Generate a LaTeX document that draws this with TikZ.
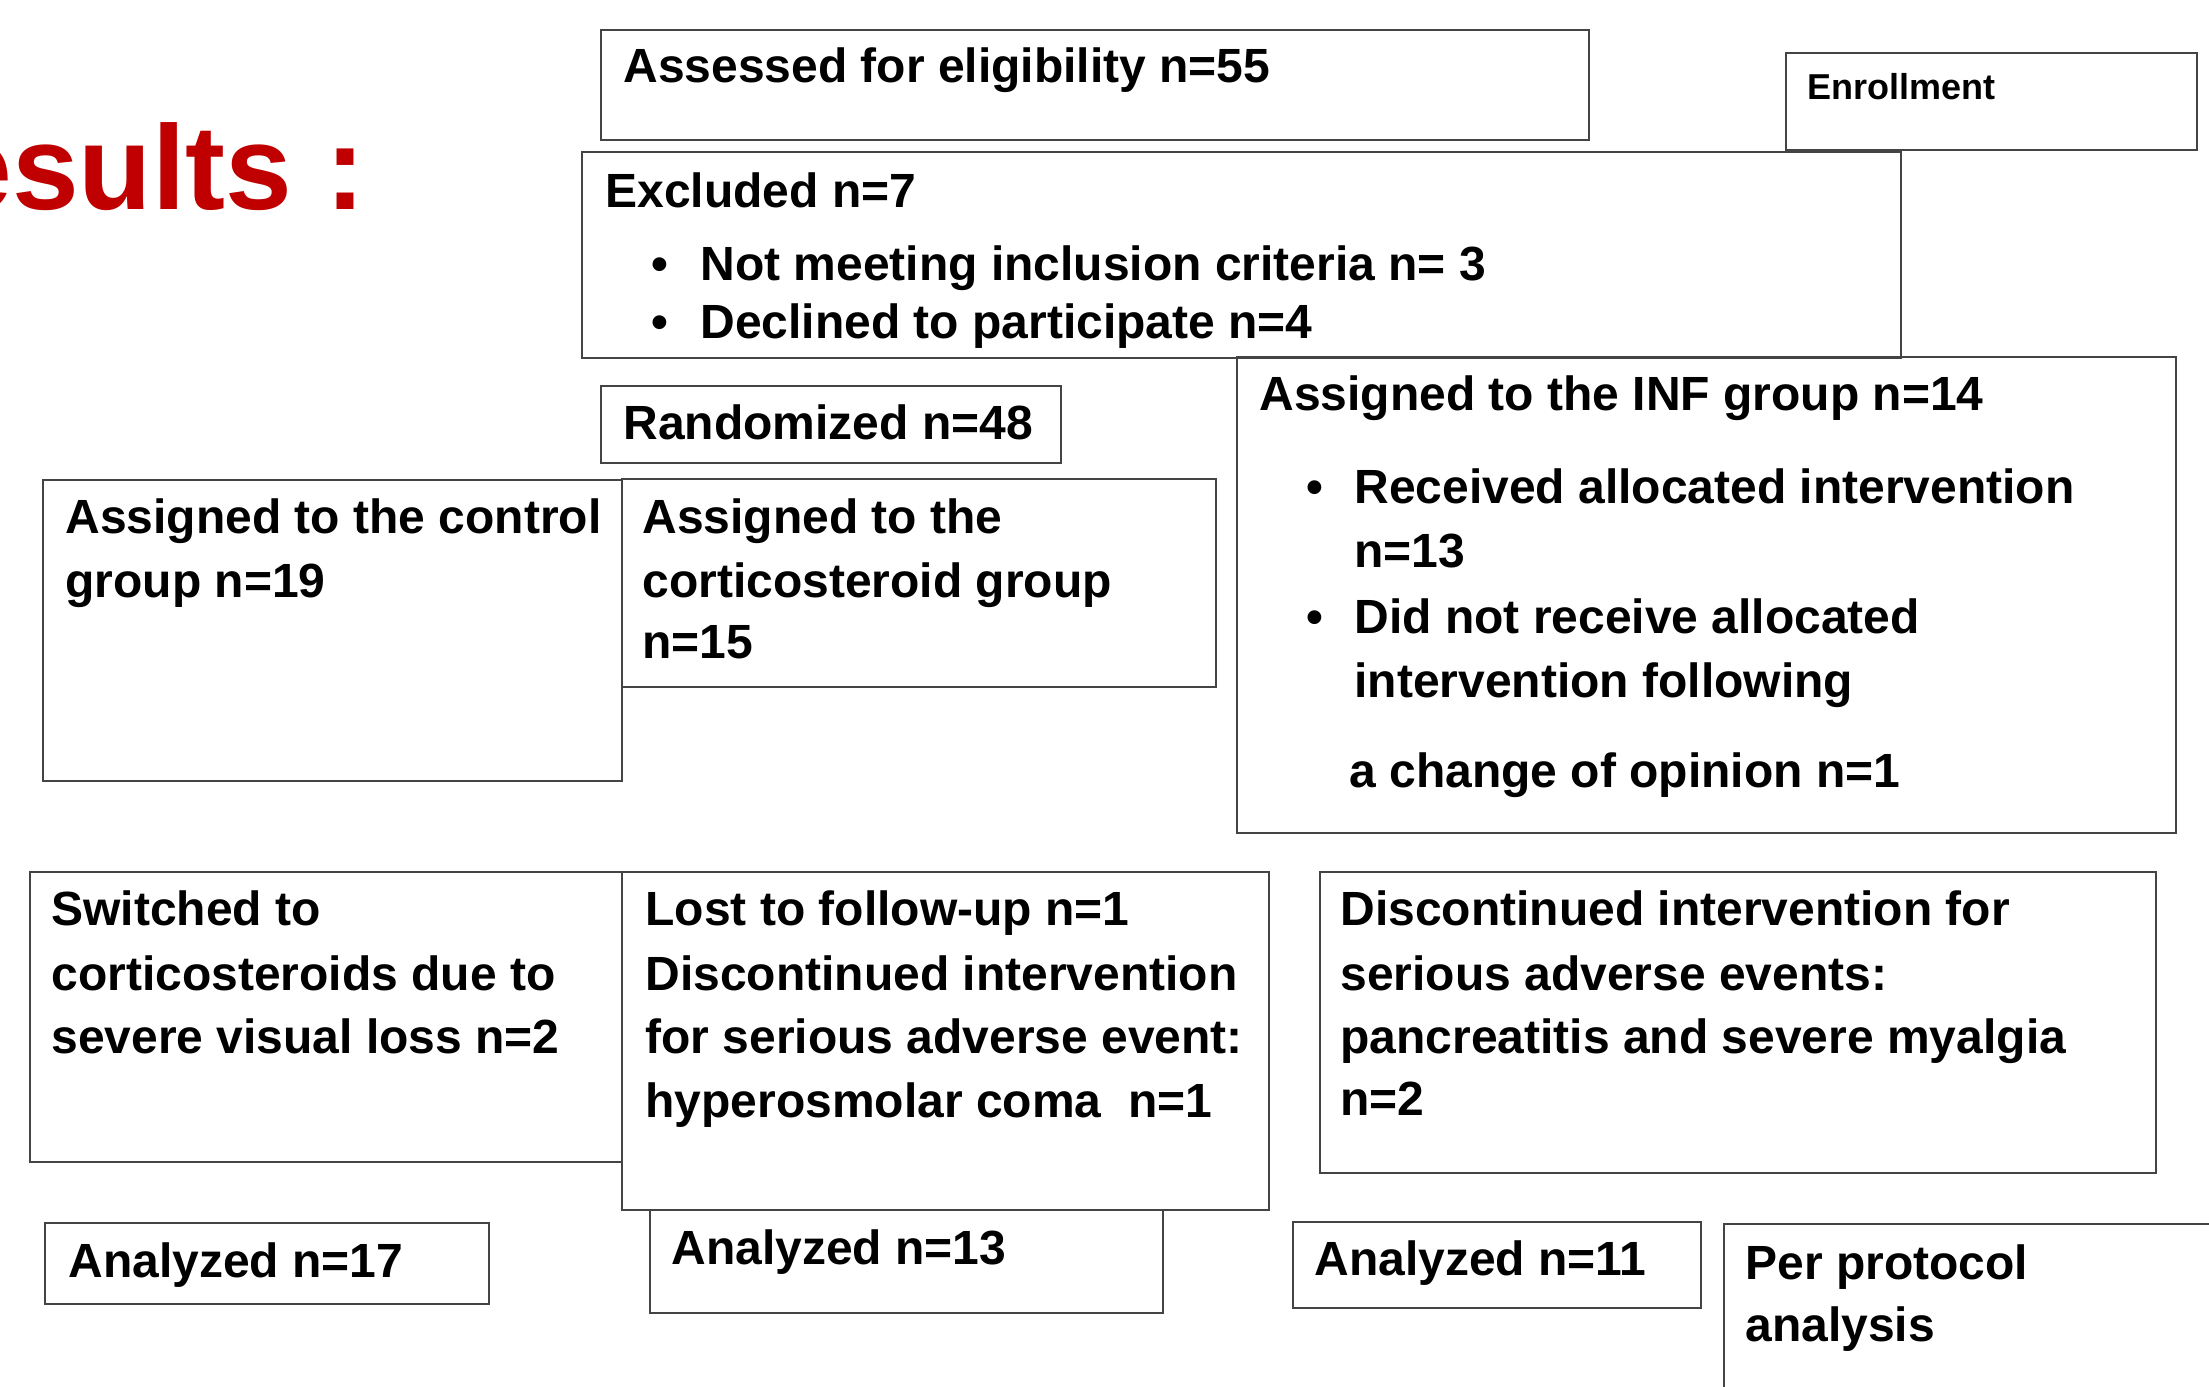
\documentclass[tikz,border=0pt]{standalone}
\usepackage{fontspec}
\setmainfont{Liberation Sans}
\usetikzlibrary{fit}
\definecolor{resred}{HTML}{C00000}
\definecolor{boxline}{HTML}{444444}
\tikzset{
  box/.style={draw=boxline, line width=0.8pt, inner sep=0pt, rectangle},
  txt/.style={anchor=base west, inner sep=0pt, font=\bfseries\fontsize{24}{28}\selectfont},
  smalltxt/.style={anchor=base west, inner sep=0pt, font=\bfseries\fontsize{18}{22}\selectfont},
  bul/.style={anchor=base, inner sep=0pt, font=\bfseries\fontsize{24}{28}\selectfont},
  bigtitle/.style={anchor=base west, inner sep=0pt, text=resred, font=\bfseries\fontsize{60}{70}\selectfont},
}
\begin{document}
\begin{tikzpicture}[x=0.5pt,y=-0.5pt]
\useasboundingbox (0,0) rectangle (2209,1386);
\clip (0,0) rectangle (2209,1386);
\fill[white] (0,0) rectangle (2209,1386);

% title
\node[bigtitle] (res) at (-55,209) {esults :};

% boxes
\node[box, fit={(601,30) (1589,140)}] (assess) {};
\node[box, fit={(1786,53) (2197,150)}] (enroll) {};
\node[box, fit={(582,152) (1901,358)}] (excl) {};
\node[box, fit={(601,386) (1061,463)}] (rand) {};
\node[box, fit={(43,480) (622,781)}] (ctrl) {};
\node[box, fit={(622,479) (1216,687)}] (cort) {};
\node[box, fit={(1237,357) (2176,833)}] (inf) {};
\node[box, fit={(30,872) (622,1162)}] (switch) {};
\node[box, fit={(622,872) (1269,1210)}] (lost) {};
\node[box, fit={(1320,872) (2156,1173)}] (disc) {};
\node[box, fit={(45,1223) (489,1304)}] (an17) {};
\node[box, fit={(650,1210) (1163,1313)}] (an13) {};
\node[box, fit={(1293,1222) (1701,1308)}] (an11) {};
\node[box, fit={(1724,1224) (2260,1440)}] (pp) {};

% texts
\node[txt] (tassess) at (623,83) {Assessed for eligibility n=55};
\node[smalltxt] (tenroll) at (1807,99) {Enrollment};
\node[txt] (texcl) at (605,207) {Excluded n=7};
\node[bul] (bx1) at (660,280) {•};
\node[txt] (texcl1) at (700,280) {Not meeting inclusion criteria n= 3};
\node[bul] (bx2) at (660,338) {•};
\node[txt] (texcl2) at (700,338) {Declined to participate n=4};
\node[txt] (trand) at (623,439) {Randomized n=48};

\node[txt] (tctrl1) at (65,533) {Assigned to the control};
\node[txt] (tctrl2) at (65,597) {group n=19};

\node[txt] (tcort1) at (642,533) {Assigned to the};
\node[txt] (tcort2) at (642,597) {corticosteroid group};
\node[txt] (tcort3) at (642,658) {n=15};

\node[txt] (tinf) at (1259,410) {Assigned to the INF group n=14};
\node[bul] (bi1) at (1315,503) {•};
\node[txt] (tinf1) at (1354,503) {Received allocated intervention};
\node[txt] (tinf2) at (1354,567) {n=13};
\node[bul] (bi2) at (1315,633) {•};
\node[txt] (tinf3) at (1354,633) {Did not receive allocated};
\node[txt] (tinf4) at (1354,697) {intervention following};
\node[txt] (tinf5) at (1349,787) {a change of opinion n=1};

\node[txt] (tsw1) at (51,925) {Switched to};
\node[txt] (tsw2) at (51,990) {corticosteroids due to};
\node[txt] (tsw3) at (51,1053) {severe visual loss n=2};

\node[txt] (tlost1) at (645,925) {Lost to follow-up n=1};
\node[txt] (tlost2) at (645,990) {Discontinued intervention};
\node[txt] (tlost3) at (645,1053) {for serious adverse event:};
\node[txt] (tlost4) at (645,1117) {hyperosmolar coma\ \ n=1};

\node[txt] (tdisc1) at (1340,925) {Discontinued intervention for};
\node[txt] (tdisc2) at (1340,990) {serious adverse events:};
\node[txt] (tdisc3) at (1340,1053) {pancreatitis and severe myalgia};
\node[txt] (tdisc4) at (1340,1115) {n=2};

\node[txt] (tan17) at (68,1277) {Analyzed n=17};
\node[txt] (tan13) at (671,1264) {Analyzed n=13};
\node[txt] (tan11) at (1314,1275) {Analyzed n=11};
\node[txt] (tpp1) at (1745,1279) {Per protocol};
\node[txt] (tpp2) at (1745,1341) {analysis};
\end{tikzpicture}
\end{document}
